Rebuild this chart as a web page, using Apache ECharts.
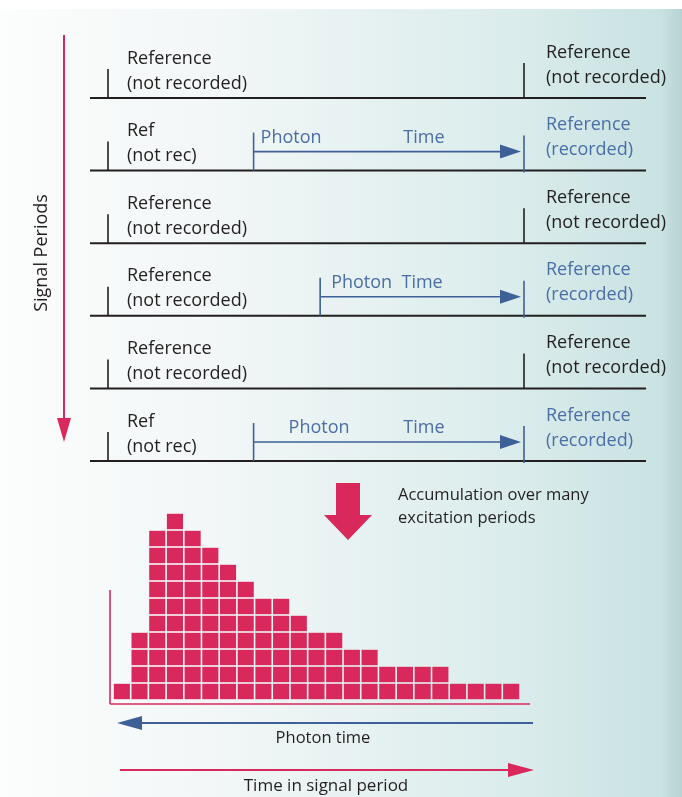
<!DOCTYPE html>
<html>
<head>
<meta charset="utf-8">
<script src="https://cdn.jsdelivr.net/npm/echarts@6/dist/echarts.min.js"></script>
<style>
  html, body { margin: 0; padding: 0; background: #fff; }
  #chart { width: 682px; height: 797px; }
</style>
</head>
<body>
<div id="chart"></div>
<script>
// signal periods (rows, top to bottom)
const leftLabels = [
  'Reference\n(not recorded)', 'Ref\n(not rec)', 'Reference\n(not recorded)',
  'Reference\n(not recorded)', 'Reference\n(not recorded)', 'Ref\n(not rec)'
]
const rightLabels = [
  'Reference\n(not recorded)', 'Reference\n(recorded)', 'Reference\n(not recorded)',
  'Reference\n(recorded)', 'Reference\n(not recorded)', 'Reference\n(recorded)'
]
// photon arrival, as fraction of the signal period (null = no photon)
const photonStart = [null, 0.35, null, 0.51, null, 0.35]
const photonText = [null, ['Photon', 'Time'], null, ['Photon  Time'], null, ['Photon', 'Time']]

// accumulated histogram: counts per time bin
const binCounts = [1, 4, 10, 11, 10, 9, 8, 7, 6, 6, 5, 4, 4, 3, 3, 2, 2, 2, 2, 1, 1, 1, 1]

const PINK = '#d8285c'
const BLUE = '#3d6197'
const BLUE_TXT = '#4a6ea6'
const INK = '#231f20'
const FONT = '"Open Sans", "Noto Sans", sans-serif'

// per-row offsets of the photon texts (layout only)
const photonDx = [0, 7, 0, 11, 0, 35]

const chart = echarts.init(document.getElementById('chart'))

const renderRow = (params, api) => {
  const i = params.dataIndex
  const x0 = api.coord([0, i])[0]
  const x1 = api.coord([1, i])[0]
  const y = api.coord([0, i])[1]
  const recorded = photonStart[i] !== null
  const children = [
    { type: 'line', shape: { x1: x0 - 18, y1: y, x2: x1 + 122, y2: y }, style: { stroke: INK, lineWidth: 2 } },
    { type: 'line', shape: { x1: x0, y1: y - 29, x2: x0, y2: y }, style: { stroke: INK, lineWidth: 1.6 } },
    {
      type: 'line',
      shape: { x1: x1, y1: y - 35, x2: x1, y2: recorded ? y + 2 : y },
      style: { stroke: recorded ? BLUE : INK, lineWidth: 1.6 }
    },
    {
      type: 'text',
      style: {
        text: leftLabels[i], x: x0 + 19, y: y - 2, verticalAlign: 'bottom',
        fill: INK, font: '18px ' + FONT, lineHeight: 25
      }
    },
    {
      type: 'text',
      style: {
        text: rightLabels[i], x: x1 + 22, y: y - 8, verticalAlign: 'bottom',
        fill: recorded ? BLUE_TXT : INK, font: '18px ' + FONT, lineHeight: 25
      }
    }
  ]
  if (recorded) {
    const xs = api.coord([photonStart[i], i])[0]
    const ya = y - 19
    children.push(
      { type: 'line', shape: { x1: xs, y1: y - 38, x2: xs, y2: y }, style: { stroke: BLUE, lineWidth: 1.6 } },
      { type: 'line', shape: { x1: xs, y1: ya, x2: x1 - 18, y2: ya }, style: { stroke: BLUE, lineWidth: 1.6 } },
      {
        type: 'polygon',
        shape: { points: [[x1 - 24, ya - 7], [x1 - 3, ya], [x1 - 24, ya + 7]] },
        style: { fill: BLUE }
      }
    )
    const txt = photonText[i]
    children.push({
      type: 'text',
      style: { text: txt[0], x: xs + photonDx[i], y: y - 33, verticalAlign: 'middle', fill: BLUE_TXT, font: '18px ' + FONT }
    })
    if (txt[1]) {
      children.push({
        type: 'text',
        style: { text: txt[1], x: api.coord([0.71, i])[0], y: y - 33, verticalAlign: 'middle', fill: BLUE_TXT, font: '18px ' + FONT }
      })
    }
  }
  return { type: 'group', children }
}

const renderBin = (params, api) => {
  const i = api.value(0)
  const n = api.value(1)
  const children = []
  for (let k = 0; k < n; k++) {
    const p0 = api.coord([i, k + 1])
    const p1 = api.coord([i + 1, k])
    children.push({
      type: 'rect',
      shape: { x: p0[0] + 0.8, y: p0[1] + 0.8, width: p1[0] - p0[0] - 1.6, height: p1[1] - p0[1] - 1.6 },
      style: { fill: PINK }
    })
  }
  return { type: 'group', children }
}

const option = {
  animation: false,
  grid: [
    { left: 108, width: 416, top: 98, height: 363 },
    { left: 113, width: 407, top: 513, height: 187 }
  ],
  xAxis: [
    { gridIndex: 0, type: 'value', min: 0, max: 1, show: false },
    { gridIndex: 1, type: 'value', min: 0, max: binCounts.length, show: false }
  ],
  yAxis: [
    { gridIndex: 0, type: 'value', min: 0, max: leftLabels.length - 1, inverse: true, show: false },
    { gridIndex: 1, type: 'value', min: 0, max: 11, show: false }
  ],
  graphic: [
    {
      type: 'rect', z: -10, silent: true,
      shape: { x: 0, y: 9, width: 682, height: 788 },
      style: {
        fill: new echarts.graphic.LinearGradient(0, 0, 1, 0, [
          { offset: 0, color: '#fcfdfd' },
          { offset: 0.3, color: '#f3f7f7' },
          { offset: 0.75, color: '#dbecec' },
          { offset: 0.97, color: '#c9e2e2' },
          { offset: 1, color: '#b7d2d2' }
        ])
      }
    },
    // signal periods arrow
    { type: 'line', shape: { x1: 64, y1: 35, x2: 64, y2: 420 }, style: { stroke: PINK, lineWidth: 2 } },
    { type: 'polygon', shape: { points: [[57, 418], [71, 418], [64, 442]] }, style: { fill: PINK } },
    {
      type: 'text', x: 42, y: 253, rotation: Math.PI / 2,
      style: { text: 'Signal Periods', fill: INK, font: '18px ' + FONT, align: 'center', verticalAlign: 'middle' }
    },
    // accumulation arrow
    {
      type: 'polygon',
      shape: { points: [[336, 483], [360, 483], [360, 515], [372, 515], [348, 540], [324, 515], [336, 515]] },
      style: { fill: PINK }
    },
    {
      type: 'text', x: 398, y: 507,
      style: { text: 'Accumulation over many\nexcitation periods', fill: INK, font: '16.5px ' + FONT, lineHeight: 23, verticalAlign: 'middle' }
    },
    // histogram axes
    { type: 'line', shape: { x1: 110, y1: 590, x2: 110, y2: 704 }, style: { stroke: PINK, lineWidth: 1.6 } },
    { type: 'line', shape: { x1: 110, y1: 704, x2: 530, y2: 704 }, style: { stroke: PINK, lineWidth: 1.6 } },
    // photon time arrow (blue, leftwards)
    { type: 'line', shape: { x1: 533, y1: 723, x2: 130, y2: 723 }, style: { stroke: BLUE, lineWidth: 2 } },
    { type: 'polygon', shape: { points: [[117, 723], [142, 716], [142, 730]] }, style: { fill: BLUE } },
    {
      type: 'text', x: 323, y: 738,
      style: { text: 'Photon time', fill: INK, font: '16.5px ' + FONT, align: 'center', verticalAlign: 'middle' }
    },
    // time in signal period arrow (pink, rightwards)
    { type: 'line', shape: { x1: 120, y1: 770, x2: 515, y2: 770 }, style: { stroke: PINK, lineWidth: 2 } },
    { type: 'polygon', shape: { points: [[534, 770], [508, 763], [508, 777]] }, style: { fill: PINK } },
    {
      type: 'text', x: 326, y: 786,
      style: { text: 'Time in signal period', fill: INK, font: '17px ' + FONT, align: 'center', verticalAlign: 'middle' }
    }
  ],
  series: [
    {
      type: 'custom',
      xAxisIndex: 0,
      yAxisIndex: 0,
      renderItem: renderRow,
      data: leftLabels.map((_, i) => [0, i]),
      silent: true
    },
    {
      type: 'custom',
      xAxisIndex: 1,
      yAxisIndex: 1,
      renderItem: renderBin,
      data: binCounts.map((c, i) => [i, c]),
      silent: true
    }
  ]
}

chart.setOption(option)
</script>
</body>
</html>
